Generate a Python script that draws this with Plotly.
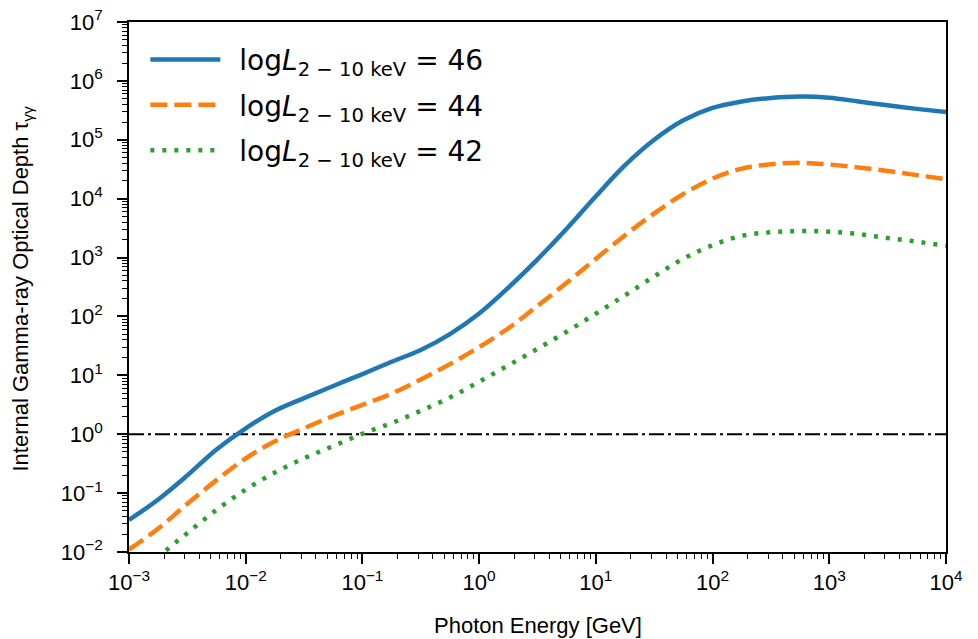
import plotly.graph_objects as go

# Photon energy grid [GeV], quarter-decade steps from 1e-3 to 1e4
energy_gev = [
    1.0e-3, 1.78e-3, 3.16e-3, 5.62e-3,
    1.0e-2, 1.78e-2, 3.16e-2, 5.62e-2,
    1.0e-1, 1.78e-1, 3.16e-1, 5.62e-1,
    1.0e0, 1.78e0, 3.16e0, 5.62e0,
    1.0e1, 1.78e1, 3.16e1, 5.62e1,
    1.0e2, 1.78e2, 3.16e2, 5.62e2,
    1.0e3, 1.78e3, 3.16e3, 5.62e3,
    1.0e4,
]

# Internal gamma-ray optical depth for three X-ray luminosities
tau_L46 = [
    0.035, 0.078, 0.20, 0.55,
    1.26, 2.5, 4.1, 6.6,
    10.5, 17.0, 26.9, 50.1,
    112.0, 309.0, 933.0, 3090.0,
    1.1e4, 3.7e4, 1.0e5, 2.14e5,
    3.47e5, 4.47e5, 5.13e5, 5.43e5,
    5.19e5, 4.47e5, 3.85e5, 3.35e5,
    2.95e5,
]
tau_L44 = [
    0.011, 0.025, 0.066, 0.166,
    0.39, 0.76, 1.26, 2.04,
    3.16, 4.9, 8.5, 15.5,
    30.2, 63.1, 151.0, 372.0,
    955.0, 2400.0, 5620.0, 1.2e4,
    2.19e4, 3.24e4, 3.85e4, 4.07e4,
    3.8e4, 3.39e4, 2.95e4, 2.51e4,
    2.14e4,
]
tau_L42 = [
    0.0032, 0.0083, 0.021, 0.052,
    0.115, 0.224, 0.39, 0.63,
    1.02, 1.55, 2.5, 4.2,
    7.8, 14.8, 28.2, 55.0,
    112.0, 229.0, 479.0, 955.0,
    1620.0, 2340.0, 2690.0, 2820.0,
    2750.0, 2510.0, 2140.0, 1860.0,
    1580.0,
]

series_labels = ["46", "44", "42"]
series_colors = ["#1f77b4", "#ff7f0e", "#2ca02c"]
series_dashes = ["solid", "17px,7px", "4px,8px"]
series_values = [tau_L46, tau_L44, tau_L42]

x_exponents = [-3, -2, -1, 0, 1, 2, 3, 4]
y_exponents = [-2, -1, 0, 1, 2, 3, 4, 5, 6, 7]

x_title = "Photon Energy [GeV]"
y_title = "Internal Gamma-ray Optical Depth \u03c4<sub>\u03b3\u03b3</sub>"


def power_label(e):
    s = str(e).replace("-", "\u2212")
    return f"10<sup>{s}</sup>"


fig = go.Figure()

# tau = 1 reference line
fig.add_trace(go.Scatter(
    x=[energy_gev[0], energy_gev[-1]], y=[1, 1],
    mode="lines", showlegend=False, hoverinfo="skip",
    line=dict(color="black", width=2, dash="15px,4px,3px,4px"),
))

for lab, col, dsh, vals in zip(series_labels, series_colors, series_dashes, series_values):
    fig.add_trace(go.Scatter(
        x=energy_gev, y=vals, mode="lines",
        name=f"\u2002log<i>L</i><sub>2 \u2212 10 keV</sub> = {lab}",
        legendgroup=f"L{lab}",
        line=dict(color=col, width=4.5, dash=dsh, shape="spline", smoothing=1.0),
    ))

tick_font = dict(family="Liberation Sans, Arial, sans-serif", size=22, color="black")
title_font = dict(family="Liberation Sans, Arial, sans-serif", size=22, color="black")

x_minor = [m * 10.0 ** e for e in range(-3, 4) for m in range(2, 10)]
y_minor = [m * 10.0 ** e for e in range(-2, 7) for m in range(2, 10)]

fig.update_xaxes(
    type="log", range=[-3, 4], automargin=False,
    tickmode="array",
    tickvals=[10.0 ** e for e in x_exponents],
    ticktext=[power_label(e) for e in x_exponents],
    ticks="outside", ticklen=10, tickwidth=1.6, tickcolor="black",
    minor=dict(tickmode="array", tickvals=x_minor, ticks="outside",
               ticklen=5, tickwidth=1.3, tickcolor="black", showgrid=False),
    showline=True, linecolor="black", linewidth=1.6, mirror=True,
    showgrid=False, zeroline=False,
    tickfont=tick_font,
)
fig.update_yaxes(
    type="log", range=[-2, 7], automargin=False,
    tickmode="array",
    tickvals=[10.0 ** e for e in y_exponents],
    ticktext=[power_label(e) for e in y_exponents],
    ticks="outside", ticklen=10, tickwidth=1.6, tickcolor="black",
    ticklabelstandoff=10,
    minor=dict(tickmode="array", tickvals=y_minor, ticks="outside",
               ticklen=5, tickwidth=1.3, tickcolor="black", showgrid=False),
    showline=True, linecolor="black", linewidth=1.6, mirror=True,
    showgrid=False, zeroline=False,
    tickfont=tick_font,
)

# Axis titles placed in paper coordinates
fig.add_annotation(
    text=x_title, xref="paper", yref="paper", x=0.5, y=-0.138,
    xanchor="center", yanchor="middle", showarrow=False, font=title_font,
)
fig.add_annotation(
    text=y_title, xref="paper", yref="paper", x=-0.131, y=0.497,
    xanchor="center", yanchor="middle", textangle=-90, showarrow=False,
    font=title_font,
)

fig.update_layout(
    width=978, height=639,
    margin=dict(l=129, r=32, t=22, b=87),
    paper_bgcolor="white", plot_bgcolor="white",
    legend=dict(
        x=0.02, y=0.976, xanchor="left", yanchor="top",
        bgcolor="rgba(255,255,255,0)", borderwidth=0,
        font=dict(family="DejaVu Sans", size=28, color="black"),
        itemwidth=70, tracegroupgap=6,
    ),
)

fig.write_html("out.html")
